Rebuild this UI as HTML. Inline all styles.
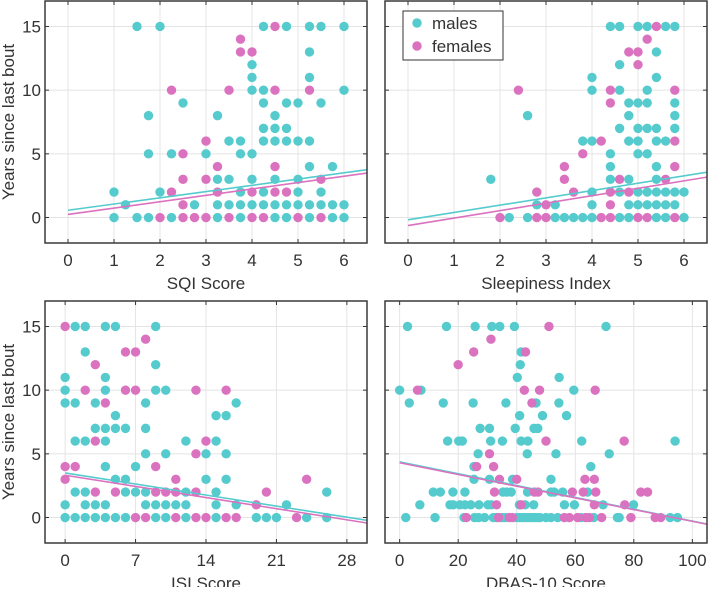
<!DOCTYPE html>
<html><head><meta charset="utf-8"><style>
body{margin:0;background:#fff;}
svg text{font-family:"Liberation Sans",Arial,sans-serif;fill:#333;}
</style></head><body>
<svg id="c" width="709" height="587" viewBox="0 0 709 587" xmlns="http://www.w3.org/2000/svg"></svg>
<script>
// ---- data ----
const yTicks = [0,5,10,15];
const sqiTicks = [0,1,2,3,4,5,6];
const sleepTicks = [0,1,2,3,4,5,6];
const isiTicks = [0,7,14,21,28];
const dbasTicks = [0,20,40,60,80,100];
// rows: [y, x...]
const sqiMales = [[15,1.5,2,4.25,4.75,5.25,5.5,6],[13,5.25],[12,4],[11,4,5.25],[10,4,4.25,6],[9,2.5,4.25,4.75,5,5.5],[8,1.75,3.25,4.5],[7,4.25,4.5,4.75],[6,3.5,3.75,4.25,4.5,4.75,5,5.25],[5,1.75,2.25,3,3.75,4],[4,5.25,5.75],[3,3.25,3.5,4,4.5,5],[2,1,2,3.75,4.25,5,5.5],[1,1.25,2.75,3.25,3.5,3.75,4,4.25,4.5,4.75,5,5.25,5.5,5.75,6],[0,1,1.5,1.75,2.25,3.25,3.75,4.5,4.75,5.25,5.75,6]];
const sqiFemales = [[15,4.5],[14,3.75],[13,3.75,4],[10,2.25,3.5,4.5,5.25],[6,3],[5,2.5],[4,3.25,4.5],[3,2.5,3,5.5],[2,2.25,3.25,4,4.5,4.75],[1,2.5],[0,2,2.5,2.75,3,3.5,4,4.25,5,5.5]];
const sleepMales = [[15,4.4,4.6,5.0,5.2,5.6,5.8],[13,5.4],[12,4.6],[11,4.0,5.4],[10,4.0,4.6,5.2],[9,4.8,5.0,5.2,5.8],[8,2.6,4.8,5.8],[7,4.6,5.0,5.2,5.4,5.8],[6,3.8,4.0,4.8,5.0,5.4,5.6],[5,4.4,5.0,5.2],[4,4.4,5.4],[3,1.8,4.4,4.8,5.4],[2,4.0,4.6,5.0,5.2,5.4,5.6,5.8,6.0],[1,2.8,3.2,4.0,4.8,5.0,5.2,5.4,5.6,5.8],[0,2.2,2.6,3.2,3.4,3.6,3.8,4.0,4.6,4.8,5.4,5.6,6.0]];
const sleepFemales = [[15,5.4],[14,5.2],[13,4.8,5.0],[12,5.0],[10,2.4,4.4,5.8],[9,4.4],[6,4.2,5.8],[5,3.8],[4,3.4,5.8],[3,3.4,4.6,5.6],[2,2.8,3.6,4.4,4.8],[1,3.0,4.4],[0,2.0,2.8,3.0,4.2,4.4,5.0,5.2,5.8]];
const isiMales = [[15,1,2,4,5,9],[13,2],[12,9],[11,0,4],[10,0,4,9,10],[9,0,1,3,8,17],[8,5,15,16],[7,3,4,5,6,8],[6,1,2,4,12,15],[5,8,10,14,16],[4,4,7],[3,5,6,14,16],[2,1,2,6,7,8,12,15,26],[1,0,2,3,4,8,9,10,11,12,15,17,22],[0,0,1,2,3,4,5,6,9,10,12,15,19,20,21,24,26]];
const isiFemales = [[15,0],[14,8],[13,6,7],[12,3],[10,2,6,7,13,16],[9,4],[6,3,14],[5,13],[4,0,1,9],[3,0,11,24],[2,3,5,9,10,11,13,20],[1,19],[0,7,8,11,13,14,16,17,23]];
const dbasMales = [[15,2.7,16,25.8,31.5,34.2,39.2,70.5],[13,41.5],[12,41.2],[11,40.2,54.5],[10,0,7.3,59.5],[9,3.3,14.9,25.1,36.3,46.6,54.4],[8,41,48.8,57],[7,27.5,30.7,39.5,45.9,47.2],[6,16.4,20.2,21.4,31.1,35.1,41.5,43.8,62.2,94.1],[5,26.8,43.6,53.4,71.6],[4,25.4,65.3],[3,25.4,30.7,38.6,51.7],[2,11.5,13.9,18.2,22.3,35.3,36.6,38.1,43.7,51.7,52.8,55.7,64.2],[1,6.9,17.2,18.3,20.6,22.3,24.3,27.1,30.2,31.3,40.9,42.9,45.8,56.3,59.7,69.5,79.9],[0,2.1,12.1,22,25.6,27,29,32,33,35,36,40,41,42,43,44,45,46,47,48,50,51.7,54,62,66.3,74.4,75,92.4,94.9]];
const dbasFemales = [[15,51],[14,31.2],[13,25.3,43],[12,20],[10,6.1,42.6,47.8,66.8],[9,45.2],[6,50,76.7],[5,30.7],[4,26.3,32.1],[3,34.1,40,63.3,66.5],[2,32.4,46,47.3,59,62.7,67,82.4,84.7],[1,33.1,41.5,66.5,76.9],[0,22.8,33.8,37.5,38.5,56.3,58,60.8,63.6,64.8,69,79,87.3,89.2]];
// fit lines: [intercept, slope]
const sqiFit = [[0.57,0.49],[0.24,0.50]];
const sleepFit = [[-0.18,0.575],[-0.63,0.585]];
const isiFit = [[3.5,-0.124],[3.32,-0.125]];
const dbasFit = [[4.37,-0.0465],[4.30,-0.046]];

const CYAN="#55cbce", PINK="#db72bf";
const NS="http://www.w3.org/2000/svg";
const svg=document.getElementById('c');
function mk(tag,attrs,parent){const e=document.createElementNS(NS,tag);for(const k in attrs)e.setAttribute(k,attrs[k]);(parent||svg).appendChild(e);return e;}

const panels=[
 {id:'sqi',L:45,R:367,T:1,B:243,x0:-0.5,x1:6.5,ticks:sqiTicks,m:sqiMales,f:sqiFemales,fit:sqiFit,title:'SQI Score',ylab:true},
 {id:'sleepiness',L:385,R:707,T:1,B:243,x0:-0.5,x1:6.5,ticks:sleepTicks,m:sleepMales,f:sleepFemales,fit:sleepFit,title:'Sleepiness Index',ylab:false},
 {id:'isi',L:45,R:367,T:301,B:543,x0:-2,x1:30,ticks:isiTicks,m:isiMales,f:isiFemales,fit:isiFit,title:'ISI Score',ylab:true},
 {id:'dbas',L:385,R:707,T:301,B:543,x0:-5,x1:105,ticks:dbasTicks,m:dbasMales,f:dbasFemales,fit:dbasFit,title:'DBAS-10 Score',ylab:false}
];
panels.forEach(p=>{
  const g=mk('g',{});
  
  
  const sx=v=>p.L+(v-p.x0)/(p.x1-p.x0)*(p.R-p.L);
  const sy=v=>p.B-(v+2)/19*(p.B-p.T);
  const clipId='clip-'+p.id;
  const cp=mk('clipPath',{id:clipId},g);mk('rect',{x:p.L,y:p.T,width:p.R-p.L,height:p.B-p.T},cp);
  p.ticks.forEach(t=>{
    const l=mk('line',{x1:sx(t),x2:sx(t),y1:p.T,y2:p.B,stroke:'#e4e4e4','stroke-width':1},g);
    
    
    mk('line',{x1:sx(t),x2:sx(t),y1:p.B,y2:p.B-4,stroke:'#333','stroke-width':1},g);
    mk('line',{x1:sx(t),x2:sx(t),y1:p.T,y2:p.T+4,stroke:'#333','stroke-width':1},g);
    const tx=mk('text',{x:sx(t),y:p.B+23,'text-anchor':'middle','font-size':17},g);
    tx.textContent=t;
    
    
  });
  yTicks.forEach(t=>{
    const l=mk('line',{x1:p.L,x2:p.R,y1:sy(t),y2:sy(t),stroke:'#e4e4e4','stroke-width':1},g);
    
    
    mk('line',{x1:p.L,x2:p.L+4,y1:sy(t),y2:sy(t),stroke:'#333','stroke-width':1},g);
    mk('line',{x1:p.R,x2:p.R-4,y1:sy(t),y2:sy(t),stroke:'#333','stroke-width':1},g);
    if(p.ylab){
      const tx=mk('text',{x:p.L-4,y:sy(t)+6,'text-anchor':'end','font-size':17},g);
      tx.textContent=t;
      
      
    }
  });
  const dg=mk('g',{'clip-path':'url(#'+clipId+')'},g);
  [[p.m,CYAN,'male'],[p.f,PINK,'female']].forEach(([rows,col,nm])=>{
    rows.forEach(r=>{
      for(let i=1;i<r.length;i++){
        const c=mk('circle',{cx:sx(r[i]),cy:sy(r[0]),r:4.7,fill:col},dg);
        
        
      }
    });
  });
  [[p.fit[0],CYAN,'male'],[p.fit[1],PINK,'female']].forEach(([f,col,nm])=>{
    const x0=0,x1=p.x1;
    const l=mk('line',{x1:sx(x0),y1:sy(f[0]+f[1]*x0),x2:sx(x1),y2:sy(f[0]+f[1]*x1),stroke:col,'stroke-width':1.6},dg);
    
    
  });
  const fr=mk('rect',{x:p.L,y:p.T,width:p.R-p.L,height:p.B-p.T,fill:'none',stroke:'#3a3a3a','stroke-width':1.5},g);
  
  
  const xt=mk('text',{x:(p.L+p.R)/2,y:p.B+46,'text-anchor':'middle','font-size':17},g);
  xt.textContent=p.title;
  
  
  if(p.ylab){
    const cy=(p.T+p.B)/2;
    const yt=mk('text',{x:0,y:0,'text-anchor':'middle','font-size':17,transform:'translate(14,'+cy+') rotate(-90)'},g);
    yt.textContent='Years since last bout';
    
    
  }
});
// legend
const lg=mk('g',{});


mk('rect',{x:403,y:11,width:100,height:49,fill:'#fff',stroke:'#333','stroke-width':1},lg);
const e1=mk('circle',{cx:417,cy:23,r:4.7,fill:CYAN},lg);


const t1=mk('text',{x:432,y:29,'font-size':17},lg);t1.textContent='males';


const e2=mk('circle',{cx:417,cy:46,r:4.7,fill:PINK},lg);


const t2=mk('text',{x:432,y:52,'font-size':17},lg);t2.textContent='females';


</script>
</body></html>
